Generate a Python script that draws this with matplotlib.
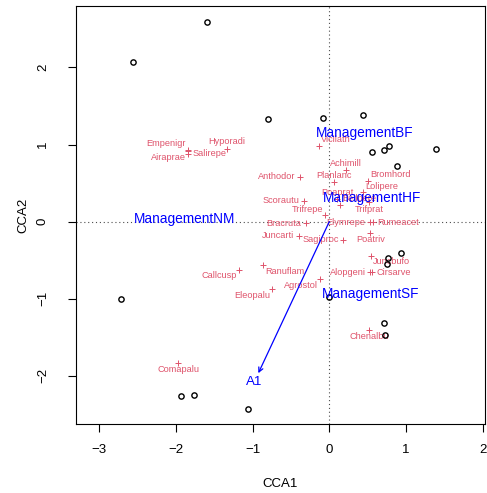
import numpy as np
import matplotlib
matplotlib.use("Agg")
import matplotlib.pyplot as plt

plt.rcParams['font.family'] = ['Liberation Sans', 'DejaVu Sans']

# site scores (CCA1, CCA2)
site_x = [-2.555, -1.592, -0.798, -0.086, 0.435, 0.555, 0.708, 0.781, 1.385, 0.878,
          0.938, 0.768, 0.751, 0.712, 0.729, -2.714, -1.931, -1.766, -1.063, -0.010]
site_y = [2.071, 2.590, 1.331, 1.341, 1.384, 0.908, 0.930, 0.978, 0.943, 0.719,
          -0.406, -0.475, -0.545, -1.310, -1.470, -1.003, -2.261, -2.244, -2.425, -0.977]

# species scores
species = ["Empenigr", "Airaprae", "Salirepe", "Hyporadi", "Anthodor", "Scorautu",
           "Trifrepe", "Vicilath", "Achimill", "Planlanc", "Bromhord", "Lolipere",
           "Poaprat", "Bellpere", "Trifprat", "Elymrepe", "Rumeacet", "Poatriv",
           "Bracruta", "Juncarti", "Sagiproc", "Callcusp", "Ranuflam", "Agrostol",
           "Eleopalu", "Alopgeni", "Cirsarve", "Juncbufo", "Chenalbu", "Comapalu"]
spec_x = [-1.840, -1.840, -1.840, -1.332, -0.378, -0.329, -0.056, -0.130, 0.214, 0.065,
          0.500, 0.443, 0.100, 0.139, 0.517, 0.530, 0.569, 0.534, -0.307, -0.398,
          0.182, -1.172, -0.859, -0.121, -0.746, 0.530, 0.560, 0.539, 0.517, -1.970]
spec_y = [0.930, 0.917, 0.878, 0.947, 0.584, 0.272, 0.083, 0.986, 0.671, 0.511,
          0.528, 0.381, 0.294, 0.217, 0.249, -0.008, -0.008, -0.150, -0.021, -0.182,
          -0.237, -0.626, -0.566, -0.747, -0.877, -0.656, -0.656, -0.441, -1.405, -1.837]

# where each species label sits around its point
label_pos = ["al", "bl", "r", "a", "l", "l", "al", "ar", "a", "a",
             "ar", "ar", "a", "ar", "b", "l", "r", "b", "l", "l",
             "l", "bl", "br", "bl", "bl", "l", "r", "br", "b", "b"]

# factor centroids
centroids = ["ManagementBF", "ManagementHF", "ManagementNM", "ManagementSF"]
cent_x = [0.456, 0.560, -1.879, 0.539]
cent_y = [1.147, 0.303, 0.031, -0.942]

# biplot arrow
bp_name = "A1"
bp_x, bp_y = -0.924, -1.966

pink = "#DF536B"

fig = plt.figure(figsize=(4.87, 4.93), dpi=100)
ax = fig.add_axes([0.1561, 0.140, 0.8388, 0.8469])
ax.set_xlim(-3.298, 2.021)
ax.set_ylim(-2.625, 2.791)

ax.axhline(0, color="0.3", lw=0.8, ls=(0, (1, 2.5)), zorder=1)
ax.axvline(0, color="0.3", lw=0.8, ls=(0, (1, 2.5)), zorder=1)

ax.plot(site_x, site_y, "o", mfc="none", mec="black", ms=3.8, mew=1.0, zorder=3)

ax.plot(spec_x, spec_y, "+", color=pink, ms=4, mew=0.7, zorder=2)
offs = {"l": (-3.2, 0, "right"), "r": (3.2, 0, "left"), "a": (0, 4.8, "center"),
        "b": (0, -4.8, "center"), "al": (-1.5, 4.4, "right"), "ar": (1.5, 4.4, "left"),
        "bl": (-1.5, -4.4, "right"), "br": (1.5, -4.4, "left")}
for name, x, y, p in zip(species, spec_x, spec_y, label_pos):
    dx, dy, ha = offs[p]
    ax.annotate(name, (x, y), xytext=(dx, dy), textcoords="offset points",
                ha=ha, va="center", color=pink, fontsize=6.6, zorder=2)

ax.annotate("", xy=(bp_x, bp_y), xytext=(0, 0),
            arrowprops=dict(arrowstyle="->", color="blue", lw=0.9,
                            shrinkA=0, shrinkB=0, mutation_scale=8), zorder=4)
ax.text(bp_x * 1.055, bp_y * 1.055, bp_name, color="blue", fontsize=9.6,
        ha="center", va="center", zorder=5)

for name, x, y in zip(centroids, cent_x, cent_y):
    ax.text(x, y, name, color="blue", fontsize=9.8, ha="center", va="center", zorder=5)

ax.set_xticks([-3, -2, -1, 0, 1, 2])
ax.set_yticks([-2, -1, 0, 1, 2])
ax.tick_params(axis="both", length=5.5, width=0.8, labelsize=9.5)
ax.tick_params(axis="x", pad=9)
ax.tick_params(axis="y", pad=14)
for lab in ax.get_yticklabels():
    lab.set_rotation(90)
    lab.set_va("center")
for s in ax.spines.values():
    s.set_linewidth(0.8)

ax.set_xlabel("CCA1", fontsize=9.5)
ax.set_ylabel("CCA2", fontsize=9.5)
ax.xaxis.set_label_coords(0.5, -0.13)
ax.yaxis.set_label_coords(-0.115, 0.5)

fig.savefig("out.png", dpi=100)
